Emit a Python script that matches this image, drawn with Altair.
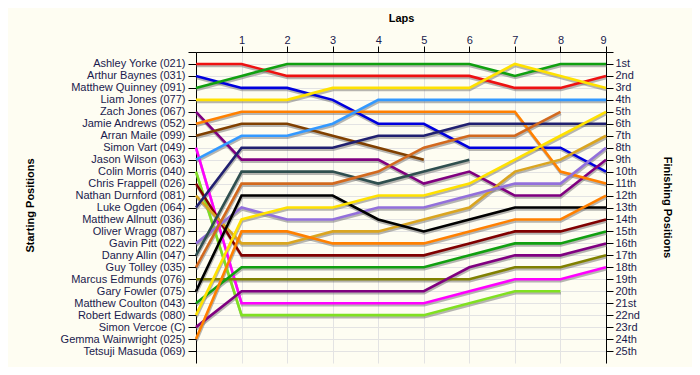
import json
import altair as alt
import pandas as pd

drivers = [
    "Ashley Yorke (021)", "Arthur Baynes (031)", "Matthew Quinney (091)", "Liam Jones (077)",
    "Zach Jones (067)", "Jamie Andrews (052)", "Arran Maile (099)", "Simon Vart (049)",
    "Jason Wilson (063)", "Colin Morris (040)", "Chris Frappell (026)", "Nathan Durnford (081)",
    "Luke Ogden (064)", "Matthew Allnutt (036)", "Oliver Wragg (087)", "Gavin Pitt (022)",
    "Danny Allin (047)", "Guy Tolley (035)", "Marcus Edmunds (076)", "Gary Fowler (075)",
    "Matthew Coulton (043)", "Robert Edwards (080)", "Simon Vercoe (C)", "Gemma Wainwright (025)",
    "Tetsuji Masuda (069)",
]

colors = [
    "#EE1111", "#0000DD", "#10A010", "#FFE100",
    "#800080", "#FF8000", "#804000", "#FF00FF",
    "#3399FF", "#80E020", "#800000", "#DAA520",
    "#202070", "#000000", "#000000", "#9370DB",
    "#2F4F4F", "#D2691E", "#808000", "#000000",
    "#10A010", "#FFE100", "#800080", "#FF8000",
    "#000000",
]

# position at lap 0 (start) .. lap 9; shorter lists = retired
positions = [
    [1, 1, 2, 2, 2, 2, 2, 3, 3, 2],
    [2, 3, 3, 4, 6, 6, 8, 8, 8, 10],
    [3, 2, 1, 1, 1, 1, 1, 2, 1, 1],
    [4, 4, 4, 3, 3, 3, 3, 1, 2, 3],
    [5, 9, 9, 9, 9, 11, 10, 12, 12, 9],
    [6, 5, 5, 5, 5, 5, 5, 5, 10, 11],
    [7, 6, 6, 7, 8, 9],
    [8, 21, 21, 21, 21, 21, 20, 19, 19, 18],
    [9, 7, 7, 6, 4, 4, 4, 4, 4, 4],
    [10, 22, 22, 22, 22, 22, 21, 20, 20],
    [11, 17, 17, 17, 17, 17, 16, 15, 15, 14],
    [12, 16, 16, 15, 15, 14, 13, 10, 9, 7],
    [13, 8, 8, 8, 7, 7, 6, 6, 6, 6],
    [],
    [],
    [16, 13, 14, 14, 13, 13, 12, 11, 11, 8],
    [17, 10, 10, 10, 11, 10, 9],
    [18, 11, 11, 11, 10, 8, 7, 7, 5],
    [19, 19, 19, 19, 19, 19, 19, 18, 18, 17],
    [20, 12, 12, 12, 14, 15, 14, 13, 13, 13],
    [21, 18, 18, 18, 18, 18, 17, 16, 16, 15],
    [22, 14, 13, 13, 12, 12, 11, 9, 7, 5],
    [23, 20, 20, 20, 20, 20, 18, 17, 17, 16],
    [24, 15, 15, 16, 16, 16, 15, 14, 14, 12],
    [],
]

finish_labels = [
    "1st", "2nd", "3rd", "4th", "5th", "6th", "7th", "8th", "9th", "10th",
    "11th", "12th", "13th", "14th", "15th", "16th", "17th", "18th", "19th", "20th",
    "21st", "22nd", "23rd", "24th", "25th",
]

lap_ticks = [1, 2, 3, 4, 5, 6, 7, 8, 9]

rows = []
for d, pos in zip(drivers, positions):
    for lap, p in enumerate(pos):
        rows.append({"driver": d, "lap": lap, "pos": p})
df = pd.DataFrame(rows)

active = [d for d, p in zip(drivers, positions) if p]
active_colors = [c for c, p in zip(colors, positions) if p]

left_expr = json.dumps([""] + drivers) + "[datum.value]"
right_expr = json.dumps([""] + finish_labels) + "[datum.value]"

FONT = "Liberation Sans"
LABEL_COLOR = "#1a1a4d"

yscale = alt.Scale(domain=[0, 26], reverse=True, nice=False, zero=False)
xscale = alt.Scale(domain=[0, 9], nice=False, zero=False)

xaxis = alt.Axis(
    orient="top", values=lap_ticks, format="d", grid=True, gridColor="#e3e3e3",
    tickSize=6, labelPadding=1, labelFont=FONT, labelFontSize=11,
    labelColor=LABEL_COLOR, domainColor="black", tickColor="black",
    title="Laps", titleFont=FONT, titleFontSize=11, titleFontWeight="bold",
    titleColor="black", titleX=205, titleY=-34, titleAlign="center",
    titleBaseline="middle",
)

shadow = alt.Chart(df).mark_line(
    color="#7a7a7a", opacity=0.55, strokeWidth=2.6, yOffset=2, xOffset=0.5
).encode(
    x=alt.X("lap:Q", scale=xscale, axis=xaxis),
    y=alt.Y(
        "pos:Q", scale=yscale,
        axis=alt.Axis(
            orient="right", values=list(range(0, 26)), labelExpr=right_expr,
            grid=False, tickSize=7, labelPadding=2, labelFont=FONT, labelFontSize=11,
            labelColor=LABEL_COLOR, domainColor="black", tickColor="black",
            title="Finishing Positions", titleFont=FONT, titleFontSize=11,
            titleFontWeight="bold", titleColor="black", titleAngle=90,
            titleX=60, titleY=155, titleAlign="center", titleBaseline="middle",
        ),
    ),
    detail="driver:N",
)

lines = alt.Chart(df).mark_line(strokeWidth=2.6).encode(
    x=alt.X("lap:Q", scale=xscale, axis=xaxis),
    y=alt.Y(
        "pos:Q", scale=yscale,
        axis=alt.Axis(
            orient="left", values=list(range(0, 26)), labelExpr=left_expr,
            grid=True, gridColor="#e3e3e3", tickSize=8, labelPadding=3,
            labelFont=FONT, labelFontSize=11, labelColor=LABEL_COLOR,
            domainColor="black", tickColor="black",
            title="Starting Positions", titleFont=FONT, titleFontSize=11,
            titleFontWeight="bold", titleColor="black", titleAngle=-90,
            titleX=-166, titleY=153, titleAlign="center", titleBaseline="middle",
        ),
    ),
    color=alt.Color("driver:N", scale=alt.Scale(domain=active, range=active_colors), legend=None),
)

chart = alt.layer(shadow, lines).resolve_scale(y="independent").properties(
    width=410,
    height=311,
    autosize=alt.AutoSizeParams(type="none"),
    padding={"left": 188, "top": 44, "right": 86, "bottom": 4},
    background="#FEFDF2",
).configure_view(strokeWidth=0)

chart.save("out.html", embed_options={"renderer": "svg", "actions": False})
